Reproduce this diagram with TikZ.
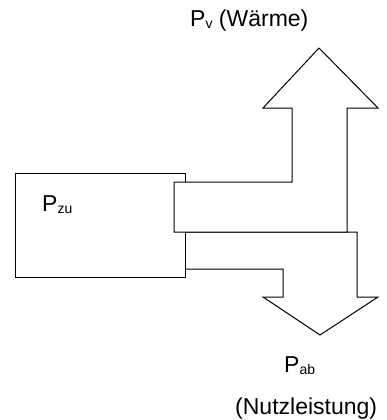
\documentclass[tikz,border=0pt]{standalone}
\usepackage{fontspec}
\setmainfont{Liberation Sans}
\tikzset{
  shapeline/.style={draw=black, fill=white, line width=1pt, line join=miter},
  lbl/.style={anchor=base west, inner sep=0pt, font=\fontsize{23}{27}\selectfont},
}
\newcommand{\subtxt}[1]{\raisebox{-2pt}{\fontsize{14}{16}\selectfont #1}}
\begin{document}
\begin{tikzpicture}[x=1pt, y=-1pt]
  \useasboundingbox (0,0) rectangle (386,420);
  % down arrow (useful power)
  \path[shapeline] (185,232) -- (357,232) -- (357,297) -- (378,297) -- (320,335)
     -- (263,297) -- (283,297) -- (283,269) -- (185,269) -- cycle;
  % input box
  \path[shapeline] (15,173) rectangle (185,277);
  % up arrow (heat loss)
  \path[shapeline] (174,182) -- (292,182) -- (292,108) -- (263,108) -- (319,48)
     -- (378,108) -- (347,108) -- (347,232) -- (174,232) -- cycle;
  % labels
  \node[lbl] (pzu) at (42,211) {P\subtxt{zu}};
  \node[lbl] (pv) at (190,27) {P\subtxt{v} (Wärme)};
  \node[lbl] (pab) at (284,372) {P\subtxt{ab}};
  \node[lbl] (nutz) at (235,414) {(Nutzleistung)};
\end{tikzpicture}
\end{document}
